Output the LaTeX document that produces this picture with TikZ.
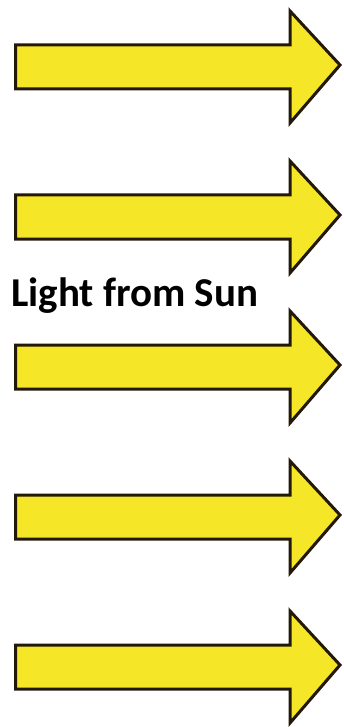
\documentclass[tikz,border=0pt]{standalone}
\usepackage{fontspec}
\setmainfont{Carlito}
\usepackage{xcolor}
\usetikzlibrary{positioning}
\definecolor{rayyellow}{RGB}{246,230,40}
\definecolor{rayedge}{RGB}{35,25,10}
\tikzset{
  sunray/.style={fill=rayyellow, draw=rayedge, line width=3pt, line join=miter},
  caption/.style={font=\fontsize{41}{47}\selectfont\bfseries, inner sep=0pt}
}

\begin{document}
\begin{tikzpicture}[x=1pt,y=-1pt]
  \useasboundingbox (0,0) rectangle (343,727);
  % five rays of light
  \foreach \c in {67,217,367,517,667} {
    \draw[sunray] (15.5,\c-22) -- (290,\c-22) -- (290,\c-56) -- (340,\c-2)
      -- (290,\c+56) -- (290,\c+22) -- (15.5,\c+22) -- cycle;
  }
  \node[caption, anchor=base west] (label) at (11,306) {Light from Sun};
\end{tikzpicture}
\end{document}
